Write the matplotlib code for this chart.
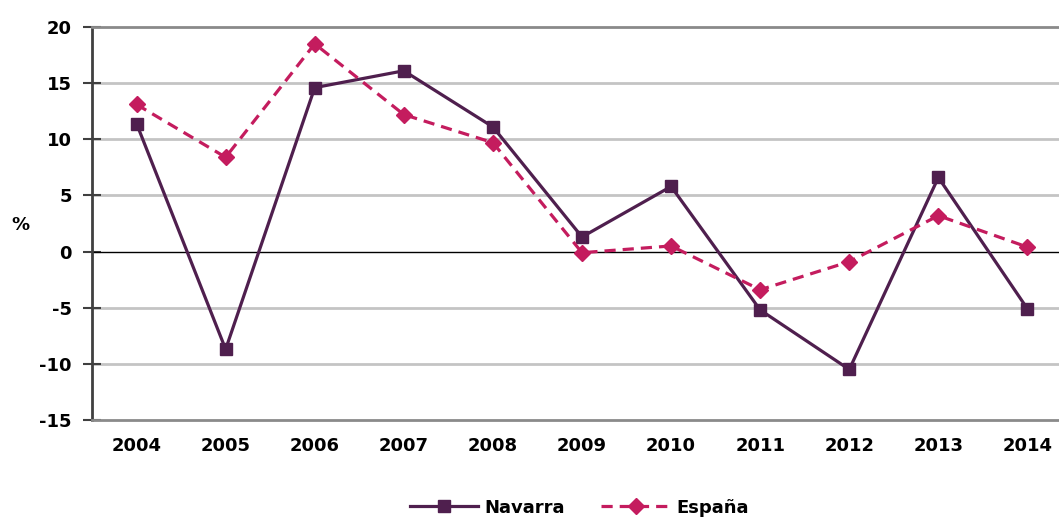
import matplotlib
matplotlib.use("Agg")
import matplotlib.pyplot as plt

years = ["2004", "2005", "2006", "2007", "2008", "2009", "2010", "2011", "2012", "2013", "2014"]
navarra = [11.4, -8.7, 14.6, 16.1, 11.1, 1.3, 5.8, -5.2, -10.5, 6.6, -5.1]
espana = [13.1, 8.4, 18.5, 12.2, 9.7, -0.1, 0.5, -3.4, -0.9, 3.2, 0.4]
yticks = [-15, -10, -5, 0, 5, 10, 15, 20]

c_nav = "#4F1F4E"
c_esp = "#C41C5E"

plt.rcParams['font.family'] = ['DejaVu Sans']
plt.rcParams['font.weight'] = 'bold'

fig = plt.figure(figsize=(10.59, 5.19), dpi=100)
ax = fig.add_axes([92/1059, 99/519, 980/1059, 393/519])

x = list(range(len(years)))
ax.plot(x, navarra, color=c_nav, lw=2.3, marker='s', ms=9, label="Navarra", zorder=4)
ax.plot(x, espana, color=c_esp, lw=2.3, ls=(0, (3.5, 2.2)), marker='D', ms=8.5, label="España", zorder=5)

ax.set_xlim(-0.5, len(years) - 0.5)
ax.set_ylim(-15, 20)
ax.set_yticks(yticks)
ax.set_yticklabels([str(t) for t in yticks], fontsize=13, fontweight='bold')
ax.set_xticks(x)
ax.set_xticklabels(years, fontsize=13, fontweight='bold')

for t in yticks:
    if t == 0:
        ax.axhline(0, color='black', lw=1.0, zorder=2)
    elif t not in (-15, 20):
        ax.axhline(t, color='#C4C4C4', lw=2.0, zorder=1)

for s in ['top', 'bottom']:
    ax.spines[s].set_color('#8A8A8A')
    ax.spines[s].set_linewidth(2.0)
ax.spines['left'].set_color('#404040')
ax.spines['left'].set_linewidth(2.0)
ax.spines['right'].set_visible(False)

ax.tick_params(axis='y', direction='inout', length=13, width=1.5, color='#404040', pad=8)
ax.tick_params(axis='x', length=0, pad=12)

fig.text(20/1059, 1 - 225/519, "%", fontsize=13, fontweight='bold', ha='center', va='center')

leg = fig.legend(loc='center', bbox_to_anchor=(0.547, 0.022), ncol=2, frameon=False,
                 fontsize=13, handlelength=3.8, columnspacing=2.0, handletextpad=0.35)
for t in leg.get_texts():
    t.set_fontweight('bold')

fig.savefig("out.png", dpi=100)
